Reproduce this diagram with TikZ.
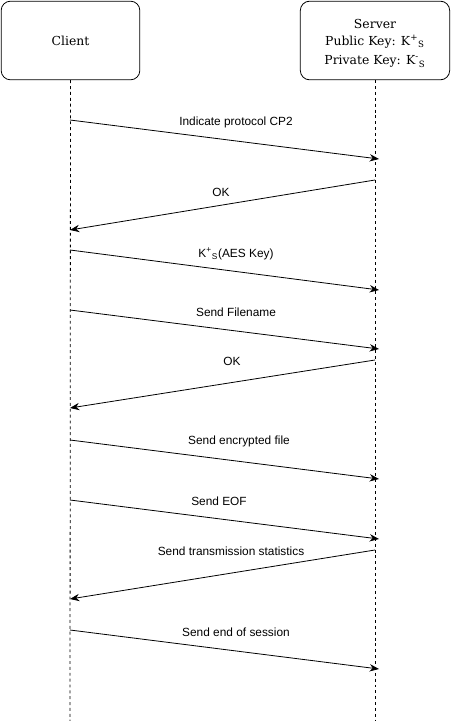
\documentclass[tikz,border=0pt]{standalone}
\usepackage{fontspec}
\setmainfont{DejaVu Serif}
\setsansfont{Liberation Sans}
\usetikzlibrary{arrows.meta}

\begin{document}
\begin{tikzpicture}[
  x=0.75pt, y=-0.75pt,
  actor/.style={
    rectangle,
    draw=black,
    fill=white,
    rounded corners=7pt,
    line width=0.6pt,
    minimum height=59pt,
    align=center,
    inner sep=2pt,
    font=\fontsize{9.3pt}{13pt}\selectfont
  },
  lifeline/.style={
    draw=black,
    line width=0.6pt,
    dash pattern=on 2.2pt off 2.2pt
  },
  msg/.style={
    -{Stealth[length=7pt,width=5.5pt]},
    line width=0.6pt,
    draw=black
  },
  msglabel/.style={
    font=\sffamily\fontsize{8.9pt}{11pt}\selectfont,
    inner sep=0pt
  }
]
  % Bounding box
  \useasboundingbox (0,0) rectangle (451,721);

  % Actors
  \node[actor, minimum width=104pt] (client) at (70.5,40.5) {\raisebox{-2pt}{Client}};
  \node[actor, minimum width=112pt] (server) at (375,40.5) {\rule{0pt}{11pt}Server\\[0pt]
    Public Key: K\textsuperscript{+}\textsubscript{S}\\[1.5pt]
    Private Key: K\textsuperscript{-}\textsubscript{S}};

  % Lifelines
  \coordinate (clientend) at (70,721);
  \coordinate (serverend) at (375,721);
  \draw[lifeline] (client.south) -- (clientend);
  \draw[lifeline] (server.south) -- (serverend);

  % Message end points
  \foreach \n/\y/\z in {1/120/159, 3/250/290, 4/310/349, 6/440/479, 7/500/539, 9/630/669} {
    \coordinate (c\n) at (70,\y);
    \coordinate (s\n) at (379,\z);
  }
  \foreach \n/\y/\z in {2/180/230, 5/360/408, 8/550/599} {
    \coordinate (s\n) at (375,\y);
    \coordinate (c\n) at (70,\z);
  }

  % Messages
  \draw[msg] (c1) -- (s1);
  \draw[msg] (s2) -- (c2);
  \draw[msg] (c3) -- (s3);
  \draw[msg] (c4) -- (s4);
  \draw[msg] (s5) -- (c5);
  \draw[msg] (c6) -- (s6);
  \draw[msg] (c7) -- (s7);
  \draw[msg] (s8) -- (c8);
  \draw[msg] (c9) -- (s9);

  % Labels
  \node[msglabel] (l1) at (236,122) {Indicate protocol CP2};
  \node[msglabel] (l2) at (221,192) {OK};
  \node[msglabel] (l3) at (236,254) {K\textsuperscript{+}\textsubscript{S}(AES Key)};
  \node[msglabel] (l4) at (236,312) {Send Filename};
  \node[msglabel] (l5) at (232,361) {OK};
  \node[msglabel] (l6) at (239,441) {Send encrypted file};
  \node[msglabel] (l7) at (219,501) {Send EOF};
  \node[msglabel] (l8) at (231,551) {Send transmission statistics};
  \node[msglabel] (l9) at (236,632) {Send end of session};
\end{tikzpicture}
\end{document}
